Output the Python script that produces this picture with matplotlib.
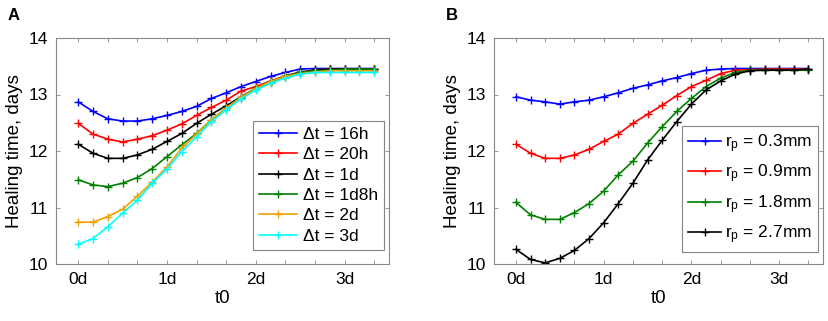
import matplotlib
matplotlib.use("Agg")
import matplotlib.pyplot as plt
import numpy as np

plt.rcParams['font.family'] = ['Liberation Sans', 'DejaVu Sans']

# time points in hours (every 4h from 0 to 80h)
t_hours = [0, 4, 8, 12, 16, 20, 24, 28, 32, 36, 40, 44, 48, 52, 56, 60, 64, 68, 72, 76, 80]

# Panel A: different Δt
a_labels = ['Δt = 16h', 'Δt = 20h', 'Δt = 1d', 'Δt = 1d8h', 'Δt = 2d', 'Δt = 3d']
a_16h = [12.87, 12.70, 12.57, 12.53, 12.53, 12.57, 12.63, 12.70, 12.79, 12.93, 13.03, 13.14, 13.23, 13.32, 13.39, 13.45, 13.46, 13.46, 13.46, 13.46, 13.46]
a_20h = [12.49, 12.30, 12.21, 12.16, 12.21, 12.27, 12.37, 12.48, 12.63, 12.77, 12.90, 13.06, 13.14, 13.24, 13.33, 13.40, 13.43, 13.45, 13.45, 13.45, 13.45]
a_1d = [12.12, 11.96, 11.87, 11.87, 11.93, 12.03, 12.17, 12.31, 12.49, 12.65, 12.80, 12.96, 13.11, 13.22, 13.32, 13.39, 13.43, 13.45, 13.45, 13.45, 13.45]
a_1d8h = [11.49, 11.40, 11.37, 11.43, 11.53, 11.69, 11.90, 12.11, 12.31, 12.55, 12.76, 12.94, 13.11, 13.23, 13.33, 13.39, 13.42, 13.43, 13.45, 13.45, 13.45]
a_2d = [10.74, 10.74, 10.84, 10.97, 11.20, 11.45, 11.72, 12.05, 12.30, 12.55, 12.76, 12.95, 13.11, 13.23, 13.32, 13.37, 13.40, 13.42, 13.42, 13.42, 13.42]
a_3d = [10.35, 10.45, 10.66, 10.90, 11.13, 11.43, 11.68, 11.99, 12.25, 12.52, 12.73, 12.92, 13.08, 13.20, 13.29, 13.36, 13.39, 13.39, 13.39, 13.39, 13.39]

# Panel B: different r_p
b_labels = [r'$\mathregular{r_p}$ = 0.3mm', r'$\mathregular{r_p}$ = 0.9mm',
            r'$\mathregular{r_p}$ = 1.8mm', r'$\mathregular{r_p}$ = 2.7mm']
b_03 = [12.96, 12.90, 12.87, 12.83, 12.87, 12.90, 12.96, 13.03, 13.11, 13.17, 13.24, 13.30, 13.37, 13.43, 13.45, 13.46, 13.46, 13.46, 13.46, 13.46, 13.46]
b_09 = [12.12, 11.96, 11.87, 11.87, 11.93, 12.03, 12.17, 12.30, 12.49, 12.65, 12.81, 12.98, 13.14, 13.25, 13.37, 13.43, 13.44, 13.45, 13.45, 13.45, 13.45]
b_18 = [11.09, 10.87, 10.79, 10.79, 10.91, 11.07, 11.29, 11.58, 11.82, 12.14, 12.43, 12.70, 12.93, 13.14, 13.29, 13.39, 13.43, 13.43, 13.43, 13.43, 13.43]
b_27 = [10.26, 10.08, 10.02, 10.10, 10.24, 10.45, 10.73, 11.07, 11.43, 11.84, 12.19, 12.52, 12.83, 13.08, 13.24, 13.36, 13.42, 13.43, 13.43, 13.43, 13.45]

x_ticks = [0, 8, 16, 24, 32, 40, 48, 56, 64, 72, 80]
x_ticklabels = ['0d', '', '', '1d', '', '', '2d', '', '', '3d', '']
y_ticks = [10, 11, 12, 13, 14]

a_colors = ['#0000ff', '#ff0000', '#000000', '#008000', '#f0a000', '#00ffff']
b_colors = ['#0000ff', '#ff0000', '#008000', '#000000']

fig = plt.figure(figsize=(8.29, 3.21), dpi=100)
axA = fig.add_axes([56/829, 57/321, 333/829, 226/321])
axB = fig.add_axes([494/829, 57/321, 329/829, 226/321])

def style(ax):
    ax.set_xlim(-6, 84)
    ax.set_ylim(10, 14)
    ax.set_xticks(x_ticks)
    ax.set_xticklabels(x_ticklabels)
    ax.set_yticks(y_ticks)
    ax.tick_params(direction='in', top=True, right=True, length=3, width=0.6,
                   color='#888888', labelsize=12.5, pad=6)
    for s in ax.spines.values():
        s.set_color('#888888')
        s.set_linewidth(0.8)
    ax.set_xlabel('t0', fontsize=13.5, labelpad=2)
    ax.set_ylabel('Healing time, days', fontsize=13.5, labelpad=4)

for ys, c, lab in zip([a_16h, a_20h, a_1d, a_1d8h, a_2d, a_3d], a_colors, a_labels):
    axA.plot(t_hours, ys, color=c, marker='+', markersize=6, linewidth=1.2, label=lab)
style(axA)
legA = axA.legend(loc='lower right', bbox_to_anchor=(1.0, 0.04), fontsize=12.5,
                  frameon=True, fancybox=False, edgecolor='#666666', handlelength=2.2,
                  handletextpad=0.3, labelspacing=0.3, borderpad=0.35, borderaxespad=0.3)
legA.get_frame().set_linewidth(0.8)

for ys, c, lab in zip([b_03, b_09, b_18, b_27], b_colors, b_labels):
    axB.plot(t_hours, ys, color=c, marker='+', markersize=6, linewidth=1.2, label=lab)
style(axB)
legB = axB.legend(loc='lower right', bbox_to_anchor=(1.0, 0.03), fontsize=12.5,
                  frameon=True, fancybox=False, edgecolor='#666666', handlelength=1.9,
                  handletextpad=0.2, labelspacing=0.45, borderpad=0.35, borderaxespad=0.3)
legB.get_frame().set_linewidth(0.8)

fig.text(8/829, 1 - 20/321, 'A', fontsize=12, fontweight='bold')
fig.text(446/829, 1 - 20/321, 'B', fontsize=12, fontweight='bold')

fig.savefig('out.png', dpi=100)
